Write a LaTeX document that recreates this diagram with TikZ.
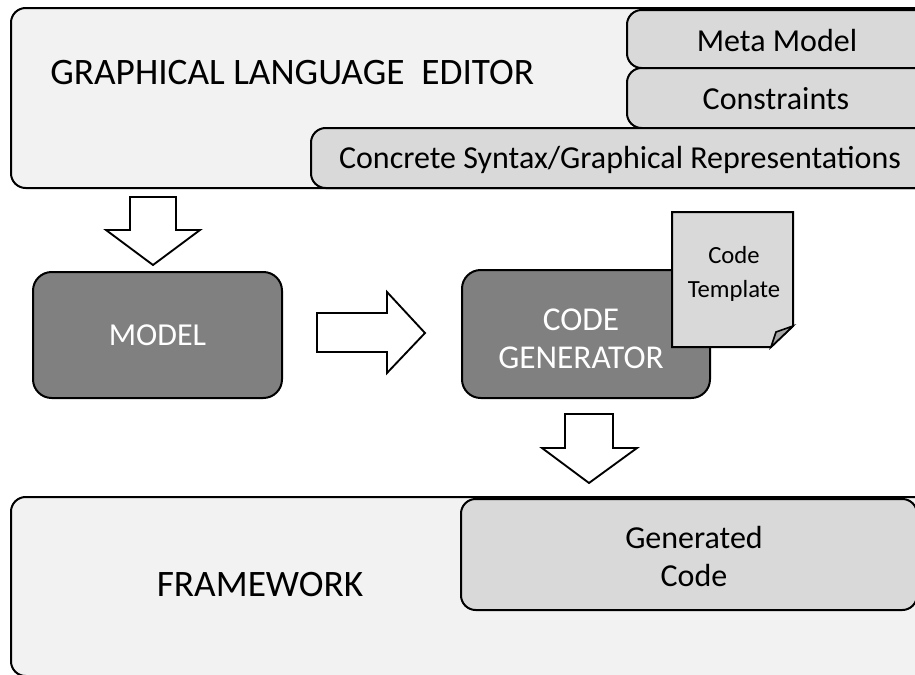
\documentclass[tikz,border=0pt]{standalone}
\usepackage{fontspec}
\setmainfont{Carlito}
\usetikzlibrary{fit}
\definecolor{lightfill}{HTML}{F2F2F2}
\definecolor{midfill}{HTML}{D9D9D9}
\definecolor{darkfill}{HTML}{808080}
\definecolor{foldfill}{HTML}{A6A6A6}
\tikzset{
  box/.style={draw=black, line width=1.5pt, rounded corners=11pt, inner sep=0pt},
  lightbox/.style={box, fill=lightfill},
  midbox/.style={box, fill=midfill},
  darkbox/.style={box, fill=darkfill, rounded corners=14pt},
  bigtext/.style={font=\fontsize{24}{28.5}\selectfont, align=center, inner sep=0pt},
  capstext/.style={font=\fontsize{28}{30}\selectfont, align=center, inner sep=0pt},
  gentextstyle/.style={font=\fontsize{25}{28.5}\selectfont, align=center, inner sep=0pt},
  smalltext/.style={font=\fontsize{18.5}{25}\selectfont, align=center, inner sep=0pt},
  blockarrow/.style={draw=black, line width=1.4pt, fill=white, line join=miter},
}
\begin{document}
\begin{tikzpicture}[x=0.75pt, y=-0.75pt]
\useasboundingbox (0,0) rectangle (915,675);
\clip (0,0) rectangle (915,675);

% Graphical language editor
\node[lightbox, fit={(11,8)(935,188)}] (gle) {};
\node[capstext, anchor=west] (gletext) at (50,73) {GRAPHICAL LANGUAGE\ \ EDITOR};
\node[midbox, fit={(627,10)(935,68)}] (meta) {};
\node[bigtext] (metatext) at (777,41) {Meta Model};
\node[midbox, fit={(627,68)(935,128)}] (cons) {};
\node[bigtext] (constext) at (776,99) {Constraints};
\node[midbox, fit={(311,128)(935,188)}] (conc) {};
\node[bigtext] (conctext) at (620,160) {Concrete Syntax/Graphical Representations};

% arrow GLE -> MODEL
\draw[blockarrow] (130,197) -- (176,197) -- (176,230) -- (200,230) -- (153,265) -- (106,230) -- (130,230) -- cycle;

% MODEL
\node[darkbox, fit={(33,272)(282,398)}] (model) {};
\node[bigtext, text=white] (modeltext) at (model.center) {MODEL};

% arrow MODEL -> CODE GENERATOR
\draw[blockarrow] (317,313) -- (387,313) -- (387,292) -- (425,333) -- (387,373) -- (387,352) -- (317,352) -- cycle;

% CODE GENERATOR
\node[darkbox, fit={(462,270)(710,398)}] (gen) {};
\node[gentextstyle, text=white] (gentext) at (581,339) {CODE\\GENERATOR};

% Code template document
\draw[line width=1.5pt, fill=midfill, line join=miter] (672,212) -- (793,212) -- (793,326) -- (771,347) -- (672,347) -- cycle;
\draw[line width=1.2pt, fill=foldfill, line join=miter] (793,326) -- (776,332) -- (771,347) -- cycle;
\node[smalltext] (tpltext) at (734,274) {Code\\Template};

% arrow CODE GENERATOR -> FRAMEWORK
\draw[blockarrow] (565,414) -- (613,414) -- (613,448) -- (637,448) -- (589,483) -- (542,448) -- (565,448) -- cycle;

% FRAMEWORK
\node[lightbox, fit={(11,497)(935,676)}] (fw) {};
\node[capstext] (fwtext) at (260,585) {FRAMEWORK};
\node[midbox, fit={(461,499)(917,610)}] (gc) {};
\node[bigtext] (gctext) at (694,556) {Generated\\Code};
\end{tikzpicture}
\end{document}
